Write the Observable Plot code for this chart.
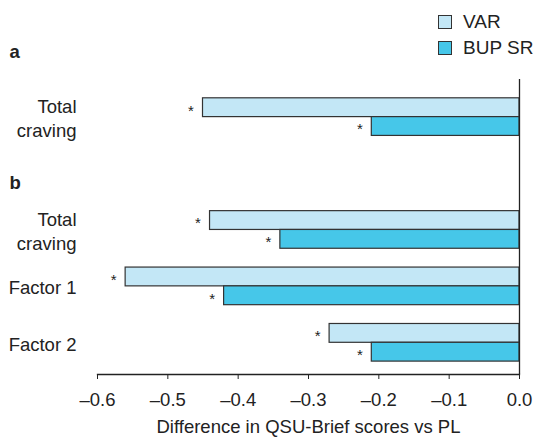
<!DOCTYPE html>
<html>
<head>
<meta charset="utf-8">
<script src="https://cdn.jsdelivr.net/npm/d3@7"></script>
<script src="https://cdn.jsdelivr.net/npm/@observablehq/plot@0.6"></script>
<style>
  html, body { margin: 0; padding: 0; background: #fff; }
  #wrap { position: relative; width: 534px; height: 437px; font-family: "Liberation Sans", Arial, sans-serif; color: #222; }
  .legend { position: absolute; left: 438px; top: 9px; font-size: 19px; line-height: 26px; }
  .legend div { display: flex; align-items: center; }
  .legend span.sw { display: inline-block; width: 12px; height: 12px; border: 1.2px solid #333; margin-right: 11px; }
</style>
</head>
<body>
<div id="wrap"></div>
<script>
// ---- data ----
const groups = ["a", "b", "b", "b"];
const categories = ["Total craving", "Total craving", "Factor 1", "Factor 2"];
const series = ["VAR", "BUP SR"];
const varValues = [-0.45, -0.44, -0.56, -0.27];
const bupValues = [-0.21, -0.34, -0.42, -0.21];
const xTicks = [-0.6, -0.5, -0.4, -0.3, -0.2, -0.1, 0.0];
const colors = ["#c3e7f6", "#46c7e9"];
const xLabel = "Difference in QSU-Brief scores vs PL";

// ---- build rows ----
const rows = [];
categories.forEach((c, i) => {
  rows.push({key: i + "|" + series[0], series: series[0], value: varValues[i], category: c, group: groups[i]});
  rows.push({key: i + "|" + series[1], series: series[1], value: bupValues[i], category: c, group: groups[i]});
});
const labelRows = rows.filter(r => r.series === series[0]);
// y domain with spacer rows between groups
const domain = [
  "0|VAR", "0|BUP SR", "g1", "g2", "g3", "g4",
  "1|VAR", "1|BUP SR", "g5",
  "2|VAR", "2|BUP SR", "g6",
  "3|VAR", "3|BUP SR"
];
const headers = [{label: "b", row: "g3"}];

const fmt = d => d === 0 ? "0.0" : "\u2013" + Math.abs(d).toFixed(1);

const plot = Plot.plot({
  width: 534,
  height: 437,
  marginLeft: 97,
  marginRight: 15,
  marginTop: 79,
  marginBottom: 63,
  style: {fontFamily: "'Liberation Sans', Arial, sans-serif", fontSize: "18.5px", color: "#222", background: "white"},
  x: {domain: [-0.6, 0], ticks: xTicks},
  y: {type: "band", domain, paddingInner: 0, paddingOuter: 0, round: false, insetTop: 18.8, insetBottom: 12.9, axis: null},
  color: {domain: series, range: colors},
  marks: [
    Plot.barX(rows, {x1: 0, x2: "value", y: "key", fill: "series", stroke: "#333", strokeWidth: 1.2}),
    Plot.text(rows, {x: "value", y: "key", text: () => "*", dx: -12, dy: 3, fontSize: 15, fill: "#222"}),
    Plot.text(labelRows, {y: "key", text: "category", frameAnchor: "left", textAnchor: "end", dx: -21, dy: 9.4, lineWidth: 5, lineHeight: 1.33, fill: "#222"}),
    Plot.text(["a"], {frameAnchor: "top-left", lineAnchor: "middle", text: d => d, textAnchor: "start", dx: -88, dy: -27, fontWeight: "bold", fill: "#222"}),
    Plot.text(headers, {y: "row", text: "label", frameAnchor: "left", textAnchor: "start", dx: -88, dy: 0, fontWeight: "bold", fill: "#222"}),
    Plot.ruleX([0], {stroke: "#222", strokeWidth: 1.3}),
    Plot.frame({anchor: "bottom", stroke: "#222", strokeWidth: 1.3}),
    Plot.axisX({ticks: xTicks, tickFormat: fmt, tickSize: 5, tickPadding: 13, stroke: "#222", label: null}),
    Plot.text([xLabel], {frameAnchor: "bottom", lineAnchor: "middle", text: d => d, dy: 53, fill: "#222"})
  ]
});

const wrap = document.getElementById("wrap");
wrap.appendChild(plot);
const leg = document.createElement("div");
leg.className = "legend";
series.forEach((s, i) => {
  const row = document.createElement("div");
  const sw = document.createElement("span");
  sw.className = "sw";
  sw.style.background = colors[i];
  row.appendChild(sw);
  row.appendChild(document.createTextNode(s));
  leg.appendChild(row);
});
wrap.appendChild(leg);
</script>
</body>
</html>
